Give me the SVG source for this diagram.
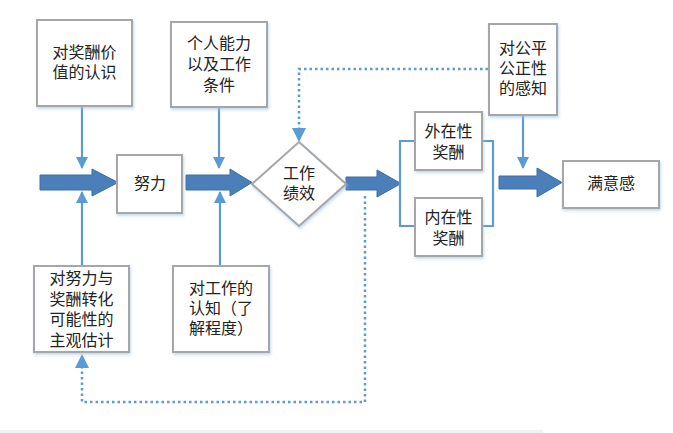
<svg xmlns="http://www.w3.org/2000/svg" width="673" height="433" viewBox="0 0 673 433">
<defs>
<filter id="sh" x="-20%" y="-20%" width="140%" height="140%">
<feDropShadow dx="1" dy="2" stdDeviation="1.5" flood-color="#9dc3e6" flood-opacity="0.6"/>
</filter>
<marker id="ah" markerWidth="12" markerHeight="12" refX="11" refY="6" orient="auto" markerUnits="userSpaceOnUse">
<path d="M0,0 L12,6 L0,12 Z" fill="#5b9bd5"/>
</marker>
</defs>
<style>
.box{fill:#fff;stroke:#a6a6a6;stroke-width:2;filter:url(#sh)}
.t{font-family:"Liberation Sans","Noto Sans CJK SC",sans-serif;font-size:16px;fill:#222;text-anchor:middle}
.ln{fill:none;stroke:#5b9bd5;stroke-width:2.2}
.dot{fill:none;stroke:#5b9bd5;stroke-width:2.5;stroke-dasharray:2.5 3}
.big{fill:#4a7fba;stroke:#3a6ea5;stroke-width:1}
</style>
<rect x="0" y="430" width="543" height="3" fill="#eef2f5"/>
<g id="connectors">
<path class="big" d="M40,175 L92,175 L92,169 L118,182.5 L92,196 L92,190 L40,190 Z"/>
<path class="big" d="M186,175 L230,175 L230,169 L252,182.5 L230,196 L230,190 L186,190 Z"/>
<path class="big" d="M346,177 L377,177 L377,170 L401,183.5 L377,197 L377,190 L346,190 Z"/>
<path class="big" d="M499,176 L537,176 L537,168 L562,182.5 L537,197 L537,189 L499,189 Z"/>
<line class="ln" x1="82" y1="106" x2="82" y2="168" marker-end="url(#ah)"/>
<line class="ln" x1="219" y1="107" x2="219" y2="168" marker-end="url(#ah)"/>
<line class="ln" x1="523" y1="115" x2="523" y2="168" marker-end="url(#ah)"/>
<line class="ln" x1="82" y1="266" x2="82" y2="192" marker-end="url(#ah)"/>
<line class="ln" x1="220" y1="266" x2="220" y2="192" marker-end="url(#ah)"/>
<path class="ln" d="M415,141 L400,141 L400,226 L415,226"/>
<path class="ln" d="M482,141 L493,141 L493,226 L482,226"/>
<path class="dot" d="M488,69 L299,69 L299,130"/>
<path d="M292,128 L306,128 L299,142 Z" fill="#5b9bd5"/>
<path class="dot" d="M365,196 L365,402 L82,402 L82,368"/>
<path d="M75,368 L89,368 L82,354 Z" fill="#5b9bd5"/>
</g>
<g id="n1"><rect class="box" x="37" y="20" width="95" height="86"/><text class="t"><tspan x="84.5" y="58">对奖酬价</tspan><tspan x="84.5" y="78">值的认识</tspan></text></g>
<g id="n2"><rect class="box" x="171" y="22" width="96" height="85"/><text class="t"><tspan x="219" y="49">个人能力</tspan><tspan x="219" y="70">以及工作</tspan><tspan x="219" y="91">条件</tspan></text></g>
<g id="n3"><rect class="box" x="117" y="155" width="65" height="58"/><text class="t" x="150" y="189">努力</text></g>
<g id="n4"><path class="box" d="M299,142 L346,184 L299,226 L252,184 Z"/><text class="t"><tspan x="299" y="179">工作</tspan><tspan x="299" y="199">绩效</tspan></text></g>
<g id="n5"><rect class="box" x="489" y="24" width="68" height="91"/><text class="t"><tspan x="523" y="54">对公平</tspan><tspan x="523" y="74">公正性</tspan><tspan x="523" y="94">的感知</tspan></text></g>
<g id="n6"><rect class="box" x="415" y="112" width="67" height="58"/><text class="t"><tspan x="448.5" y="137">外在性</tspan><tspan x="448.5" y="158">奖酬</tspan></text></g>
<g id="n7"><rect class="box" x="415" y="198" width="67" height="58"/><text class="t"><tspan x="448.5" y="223">内在性</tspan><tspan x="448.5" y="244">奖酬</tspan></text></g>
<g id="n8"><rect class="box" x="563" y="161" width="96" height="47"/><text class="t" x="611" y="189">满意感</text></g>
<g id="n9"><rect class="box" x="34" y="266" width="95" height="86"/><text class="t"><tspan x="81.5" y="284">对努力与</tspan><tspan x="81.5" y="304.5">奖酬转化</tspan><tspan x="81.5" y="325">可能性的</tspan><tspan x="81.5" y="345.5">主观估计</tspan></text></g>
<g id="n10"><rect class="box" x="173" y="266" width="96" height="86"/><text class="t"><tspan x="221" y="294">对工作的</tspan><tspan x="221" y="314">认知（了</tspan><tspan x="221" y="334">解程度）</tspan></text></g>
</svg>
